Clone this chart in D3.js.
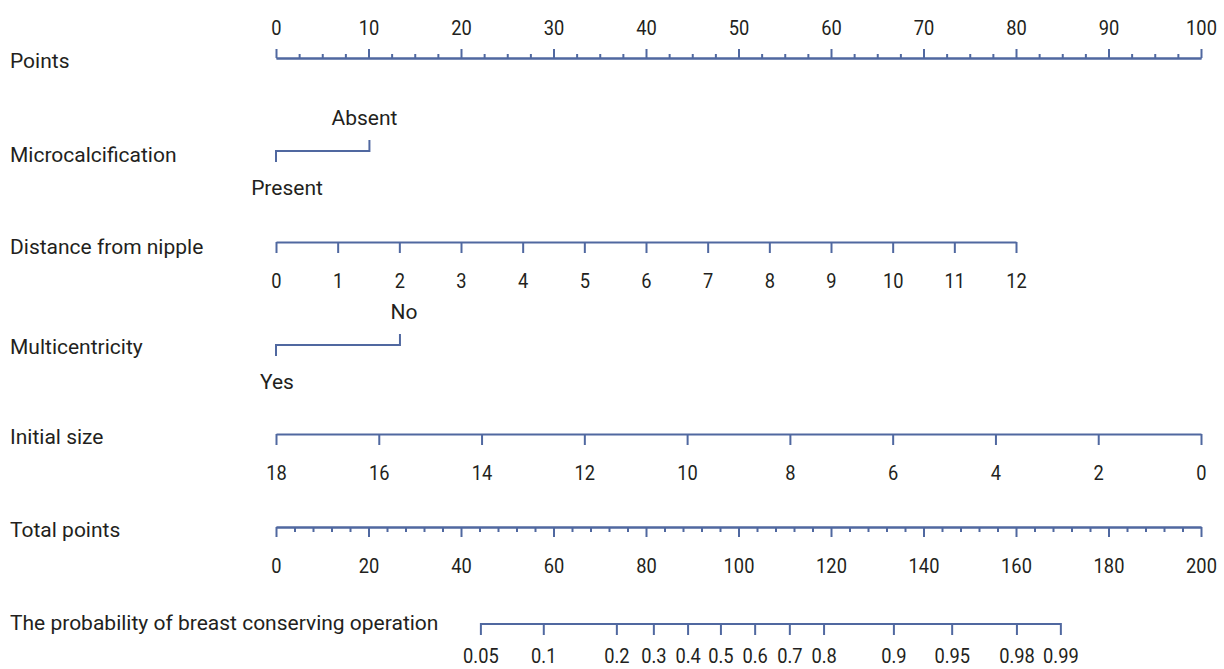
<!DOCTYPE html>
<html>
<head>
<meta charset="utf-8">
<script src="https://cdn.jsdelivr.net/npm/d3@7"></script>
<style>
  html, body { margin: 0; padding: 0; background: #fff; }
  svg text { font-family: "Roboto", "Liberation Sans", sans-serif; fill: #231f20; }
</style>
</head>
<body>
<svg id="chart" width="1224" height="669"></svg>
<script>
// Nomogram: probability of breast conserving operation

// Points scale
const pointsMajor = [0, 10, 20, 30, 40, 50, 60, 70, 80, 90, 100];
const pointsMinorStep = 2.5;

// Microcalcification (categorical): level -> points
const microLevels = ["Present", "Absent"];
const microPoints = [0, 10.1];

// Distance from nipple (cm): 0..12 cm spans 0..80 points
const distanceTicks = [0, 1, 2, 3, 4, 5, 6, 7, 8, 9, 10, 11, 12];
const distanceRangePoints = [0, 80];

// Multicentricity (categorical)
const multiLevels = ["Yes", "No"];
const multiPoints = [0, 13.4];

// Initial size: 18 -> 0 points, 0 -> 100 points
const sizeTicks = [18, 16, 14, 12, 10, 8, 6, 4, 2, 0];
const sizeRangePoints = [0, 100];

// Total points
const totalMajor = [0, 20, 40, 60, 80, 100, 120, 140, 160, 180, 200];
const totalMinorStep = 4;

// Probability ticks and their location on the total-points scale
const probTicks = ["0.05", "0.1", "0.2", "0.3", "0.4", "0.5", "0.6", "0.7", "0.8", "0.9", "0.95", "0.98", "0.99"];
const probTotalPoints = [44.3, 57.9, 73.7, 81.7, 89.1, 96.2, 103.6, 111.1, 118.5, 133.6, 146.2, 160.2, 169.7];

const rowLabels = ["Points", "Microcalcification", "Distance from nipple", "Multicentricity",
                   "Initial size", "Total points", "The probability of breast conserving operation"];

// ---- layout ----
const svg = d3.select("#chart");
const lineColor = "#5068a0";
const fontSize = 21;
const numSquash = "scale(0.87,1)";   // narrow the numerals
const x0 = 276, x1 = 1201;
const rowY = { points: 58, micro: 151, distance: 242, multi: 345, size: 434, total: 527, prob: 624 };
const labelY = [61, 155, 247, 347, 437, 530, 623];

const xPoints = d3.scaleLinear().domain([0, 100]).range([x0, x1]);
const xTotal = d3.scaleLinear().domain([0, 200]).range([x0, x1]);

// row labels
svg.append("g").selectAll("text").data(rowLabels).join("text")
  .attr("x", 10).attr("y", (d, i) => labelY[i]).attr("dy", "0.35em")
  .attr("font-size", fontSize).text(d => d);

function styleAxis(g) {
  g.selectAll("path.domain").attr("stroke", lineColor).attr("stroke-width", 2);
  g.selectAll(".tick line").attr("stroke", lineColor).attr("stroke-width", 2);
  g.selectAll(".tick text").attr("font-size", fontSize).attr("font-family", null)
    .attr("transform", numSquash);
}

// Points axis: major ticks with labels, minor ticks without
const pointsMinor = d3.range(0, 100 + 1e-9, pointsMinorStep).filter(v => !pointsMajor.includes(v));
svg.append("g").attr("transform", `translate(0,${rowY.points})`)
  .call(d3.axisTop(xPoints).tickValues(pointsMinor).tickSize(4).tickSizeOuter(0).tickFormat(""))
  .call(styleAxis);
svg.append("g").attr("transform", `translate(0,${rowY.points})`)
  .call(d3.axisTop(xPoints).tickValues(pointsMajor).tickSize(9).tickSizeOuter(0).tickPadding(14))
  .call(styleAxis);

// Categorical rows: line between levels, first tick down / label below, second tick up / label above
function categorical(levels, pts, y, dxs) {
  const g = svg.append("g");
  const xs = pts.map(p => xPoints(p));
  g.append("path").attr("d", d3.line()(xs.map(x => [x, y])))
    .attr("stroke", lineColor).attr("stroke-width", 2).attr("fill", "none");
  levels.forEach((lv, i) => {
    const dir = i % 2 === 0 ? 1 : -1;
    g.append("line").attr("x1", xs[i]).attr("x2", xs[i])
      .attr("y1", y - (dir > 0 ? 1 : -1)).attr("y2", y + dir * 11)
      .attr("stroke", lineColor).attr("stroke-width", 2);
    g.append("text").attr("x", xs[i] + dxs[i]).attr("y", y + dir * (dir > 0 ? 37 : 33))
      .attr("dy", "0.35em").attr("text-anchor", "middle").attr("font-size", fontSize).text(lv);
  });
}
categorical(microLevels, microPoints, rowY.micro, [11, -5]);

// Distance from nipple
const xDistance = d3.scaleLinear().domain(d3.extent(distanceTicks))
  .range(distanceRangePoints.map(p => xPoints(p)));
svg.append("g").attr("transform", `translate(0,${rowY.distance})`)
  .call(d3.axisBottom(xDistance).tickValues(distanceTicks).tickSize(11).tickSizeOuter(0).tickPadding(20))
  .call(styleAxis);

categorical(multiLevels, multiPoints, rowY.multi, [1, 4]);

// Initial size (reversed)
const xSize = d3.scaleLinear().domain([18, 0]).range(sizeRangePoints.map(p => xPoints(p)));
svg.append("g").attr("transform", `translate(0,${rowY.size})`)
  .call(d3.axisBottom(xSize).tickValues(sizeTicks).tickSize(11).tickSizeOuter(0).tickPadding(20))
  .call(styleAxis);

// Total points
const totalMinor = d3.range(0, 200 + 1e-9, totalMinorStep).filter(v => !totalMajor.includes(v));
svg.append("g").attr("transform", `translate(0,${rowY.total})`)
  .call(d3.axisBottom(xTotal).tickValues(totalMinor).tickSize(5).tickSizeOuter(0).tickFormat(""))
  .call(styleAxis);
svg.append("g").attr("transform", `translate(0,${rowY.total})`)
  .call(d3.axisBottom(xTotal).tickValues(totalMajor).tickSize(10).tickSizeOuter(0).tickPadding(21))
  .call(styleAxis);

// Probability axis, positioned on the total-points scale
const probG = svg.append("g").attr("transform", `translate(0,${rowY.prob})`);
probG.append("path")
  .attr("d", d3.line()([[xTotal(d3.min(probTotalPoints)), 0], [xTotal(d3.max(probTotalPoints)), 0]]))
  .attr("stroke", lineColor).attr("stroke-width", 2);
const pt = probG.selectAll("g.tick").data(probTicks).join("g").attr("class", "tick")
  .attr("transform", (d, i) => `translate(${xTotal(probTotalPoints[i])},0)`);
pt.append("line").attr("y1", -1).attr("y2", 11).attr("stroke", lineColor).attr("stroke-width", 2);
pt.append("text").attr("y", 31.5).attr("dy", "0.35em").attr("text-anchor", "middle")
  .attr("font-size", fontSize).attr("transform", numSquash).text(d => d);
</script>
</body>
</html>
